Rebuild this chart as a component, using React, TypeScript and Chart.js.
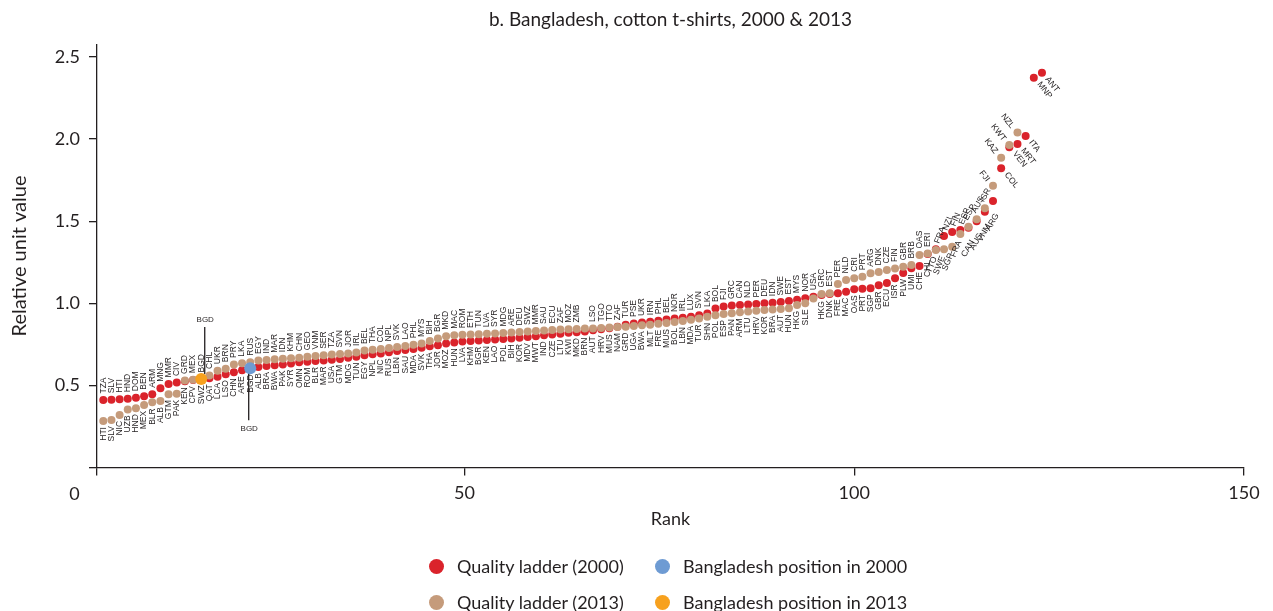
import React, { useEffect, useRef } from 'react';
import { Chart, registerables } from 'chart.js';

Chart.register(...registerables);

const TITLE = 'b. Bangladesh, cotton t-shirts, 2000 & 2013';
const X_TITLE = 'Rank';
const Y_TITLE = 'Relative unit value';
const X_TICKS = [50, 100, 150];
const Y_TICKS = [0, 0.5, 1, 1.5, 2, 2.5];
const X_MIN = 2.874;
const X_MAX = 150;
const Y_MAX = 2.577;
// rank position of the first dot and distance between dots
const RANK_START = 3.68;
const RANK_STEP = 1.047;

// Quality ladder (2000)
const RED_LABELS = [
  'TZA', 'SLV', 'HTI', 'HND', 'DOM', 'BEN', 'ARM', 'MNG', 'MMR', 'CIV',
  'KEN', 'CPV', 'SWZ', 'QAT', 'LCA', 'LSO', 'CHN', 'ARE', 'BGD', 'ALB',
  'BRA', 'BWA', 'PAK', 'SYR', 'OMN', 'ROM', 'BLR', 'MAR', 'USA', 'GTM',
  'MDG', 'TUN', 'EGY', 'NPL', 'NIC', 'RUS', 'LBN', 'SAU', 'MDA', 'SVK',
  'THA', 'JOR', 'MOZ', 'HUN', 'LVA', 'KHM', 'BGR', 'KEN', 'LAO', 'POL',
  'BIH', 'KOR', 'MDV', 'MWT', 'IND', 'CZE', 'LTU', 'KWI', 'MKD', 'BRN',
  'AUT', 'HRV', 'MUS', 'ZAF', 'TUR', 'PSE', 'UKR', 'IRN', 'PHL', 'BEL',
  'NOR', 'IRL', 'LUX', 'SVN', 'LKA', 'BOL', 'FJI', 'GRC', 'CAN', 'NLD',
  'PER', 'DEU', 'IDN', 'SWE', 'EST', 'MYS', 'NOR', 'USA', 'HKG', 'DNK',
  'FRE', 'MAC', 'OAS', 'PRT', 'SGP', 'GBR', 'ECU', 'ISR', 'PLW', 'UMI',
  'CHE', 'CHL', 'FRA', 'NZL', 'FIN', 'ESP', 'CAN', 'AUS', 'VNM', 'ARG',
  'COL', 'VEN', 'MRT', 'ITA', 'MNP', 'ANT',
];
const RED_VALUES = [
  0.411, 0.412, 0.415, 0.419, 0.425, 0.434, 0.446, 0.482, 0.509, 0.517,
  0.525, 0.533, 0.537, 0.543, 0.553, 0.568, 0.580, 0.592, 0.604, 0.612,
  0.618, 0.623, 0.628, 0.634, 0.641, 0.644, 0.649, 0.652, 0.656, 0.661,
  0.669, 0.675, 0.683, 0.690, 0.695, 0.702, 0.709, 0.716, 0.722, 0.730,
  0.738, 0.745, 0.755, 0.762, 0.768, 0.771, 0.773, 0.776, 0.779, 0.782,
  0.786, 0.790, 0.795, 0.800, 0.805, 0.810, 0.815, 0.820, 0.824, 0.828,
  0.836, 0.842, 0.848, 0.857, 0.870, 0.877, 0.883, 0.888, 0.894, 0.901,
  0.907, 0.912, 0.918, 0.928, 0.938, 0.968, 0.980, 0.986, 0.990, 0.993,
  0.996, 1.000, 1.004, 1.008, 1.014, 1.022, 1.031, 1.040, 1.050, 1.057,
  1.061, 1.071, 1.085, 1.089, 1.092, 1.110, 1.124, 1.152, 1.185, 1.213,
  1.227, 1.300, 1.330, 1.410, 1.435, 1.446, 1.460, 1.500, 1.558, 1.623,
  1.822, 1.950, 1.970, 2.019, 2.374, 2.404,
];

// Quality ladder (2013)
const TAN_LABELS = [
  'HTI', 'SLV', 'NIC', 'UZB', 'HND', 'MEX', 'BLR', 'ALB', 'GTM', 'PAK',
  'GRD', 'MEX', 'BGD', 'CHL', 'UKR', 'BRN', 'PRY', 'LKA', 'RUS', 'EGY',
  'IND', 'MAR', 'IDN', 'KHM', 'CHN', 'GEO', 'VNM', 'SER', 'TZA', 'SVN',
  'JOR', 'IRL', 'BEL', 'THA', 'COL', 'NPL', 'SVK', 'LAO', 'PHL', 'MYS',
  'BIH', 'BGR', 'MKD', 'MAC', 'ROM', 'ETH', 'TUN', 'LVA', 'SYR', 'MDG',
  'ARE', 'DEU', 'SWZ', 'MMR', 'SAU', 'ECU', 'ZAF', 'MOZ', 'ZMB', '',
  'LSO', 'TGO', 'TTO', 'NAM', 'GRD', 'UGA', 'BWA', 'MLT', 'FRE', 'MUS',
  'BOL', 'LBN', 'MDA', 'TUR', 'SHN', 'POL', 'ESP', 'PAN', 'ARM', 'LTU',
  'HRV', 'KOR', 'BRA', 'AUT', 'HUN', 'HKG', 'SLE', '', 'GRC', 'EST',
  'PER', 'NLD', 'CRI', 'PRT', 'ARG', 'DNK', 'CZE', 'FIN', 'GBR', 'BRB',
  'OAS', 'ERI', 'TTO', 'SWE', 'SGP', 'FRA', 'ESP', 'AUS', 'ISR', 'FJI',
  'KAZ', 'KWT', 'NZL',
];
const TAN_VALUES = [
  0.283, 0.289, 0.320, 0.354, 0.361, 0.381, 0.397, 0.405, 0.446, 0.449,
  0.530, 0.535, 0.539, 0.561, 0.590, 0.602, 0.628, 0.635, 0.641, 0.651,
  0.655, 0.659, 0.663, 0.665, 0.669, 0.675, 0.679, 0.683, 0.689, 0.691,
  0.695, 0.701, 0.712, 0.717, 0.722, 0.728, 0.734, 0.740, 0.747, 0.755,
  0.770, 0.785, 0.800, 0.805, 0.808, 0.810, 0.812, 0.814, 0.816, 0.819,
  0.822, 0.826, 0.829, 0.832, 0.835, 0.838, 0.840, 0.842, 0.844, 0.846,
  0.846, 0.849, 0.852, 0.855, 0.858, 0.862, 0.866, 0.870, 0.875, 0.880,
  0.886, 0.892, 0.900, 0.908, 0.918, 0.928, 0.935, 0.940, 0.945, 0.950,
  0.955, 0.959, 0.962, 0.966, 0.970, 0.990, 1.000, 1.030, 1.057, 1.062,
  1.118, 1.142, 1.152, 1.162, 1.183, 1.190, 1.203, 1.212, 1.222, 1.233,
  1.294, 1.304, 1.325, 1.329, 1.345, 1.422, 1.467, 1.512, 1.579, 1.716,
  1.887, 1.964, 2.041,
];

const LEGEND_ITEMS = [
  { text: 'Quality ladder (2000)', color: '#DA232B', row: 0, col: 0 },
  { text: 'Bangladesh position in 2000', color: '#6E9BD3', row: 0, col: 1 },
  { text: 'Quality ladder (2013)', color: '#C59B7B', row: 1, col: 0 },
  { text: 'Bangladesh position in 2013', color: '#F7A11E', row: 1, col: 1 },
];

const INK = '#231F20';
const RED = '#DA232B';
const TAN = '#C59B7B';
const BLUE = '#6E9BD3';
const ORANGE = '#F7A11E';
const FONT = 'Lato, "Noto Sans", sans-serif';
const LABEL_FONT = '8.5px "Liberation Sans", Arial, sans-serif';

const toPoints = (values: number[]) =>
  values.map((v, i) => ({ x: RANK_START + i * RANK_STEP, y: v }));

const labelPlugin = {
  id: 'pointLabels',
  afterDatasetsDraw(chart: any) {
    const ctx = chart.ctx;
    ctx.save();
    ctx.font = LABEL_FONT;
    ctx.fillStyle = INK;
    ctx.textBaseline = 'middle';
    const series = [
      { meta: chart.getDatasetMeta(0), labels: RED_LABELS, values: RED_VALUES, other: TAN_VALUES, kind: 'red' },
      { meta: chart.getDatasetMeta(1), labels: TAN_LABELS, values: TAN_VALUES, other: RED_VALUES, kind: 'tan' },
    ];
    for (const s of series) {
      s.meta.data.forEach((pt: any, i: number) => {
        const text = s.labels[i];
        if (!text) return;
        const rank = i + 1;
        const above = s.other[i] === undefined || s.values[i] >= s.other[i];
        let rot = -90;
        let align = above ? 'left' : 'right';
        let dx = 0;
        let dy = above ? -6.5 : 6;
        if (s.kind === 'red' && rank >= 111) {
          rot = 52; align = 'left'; dx = 5; dy = 5;
        } else if (s.kind === 'tan' && rank >= 110) {
          rot = 52; align = 'right'; dx = -5; dy = -5;
        } else if (s.kind === 'red' && rank >= 107) {
          rot = -60; align = 'right'; dx = 4; dy = 13;
        } else if (s.kind === 'tan' && rank >= 107) {
          rot = -60; align = 'left'; dx = -3; dy = -7;
        } else if (rank >= 103) {
          rot = -68;
          dx = above ? 1 : -1;
          dy = above ? -6 : 7;
        }
        ctx.save();
        ctx.translate(pt.x + dx, pt.y + dy);
        ctx.rotate((rot * Math.PI) / 180);
        ctx.textAlign = align;
        ctx.fillText(text, 0, 0);
        ctx.restore();
      });
    }
    ctx.restore();
  },
};

const calloutPlugin = {
  id: 'bgdCallouts',
  beforeDatasetsDraw(chart: any) {
    const ctx = chart.ctx;
    const blue = chart.getDatasetMeta(2).data[0];
    const orange = chart.getDatasetMeta(3).data[0];
    ctx.save();
    ctx.strokeStyle = INK;
    ctx.lineWidth = 1.3;
    ctx.beginPath();
    ctx.moveTo(orange.x + 3.5, orange.y - 52);
    ctx.lineTo(orange.x + 3.5, orange.y - 5);
    ctx.moveTo(blue.x - 1.5, blue.y + 4);
    ctx.lineTo(blue.x - 1.5, blue.y + 52);
    ctx.stroke();
    ctx.restore();
  },
  afterDraw(chart: any) {
    const ctx = chart.ctx;
    const blue = chart.getDatasetMeta(2).data[0];
    const orange = chart.getDatasetMeta(3).data[0];
    const xs = chart.scales.x;
    const area = chart.chartArea;
    ctx.save();
    ctx.fillStyle = INK;
    ctx.textAlign = 'center';
    ctx.textBaseline = 'middle';
    ctx.font = '8px "Liberation Sans", Arial, sans-serif';
    ctx.fillText('BGD', orange.x + 4, orange.y - 59);
    ctx.fillText('BGD', blue.x - 1, blue.y + 60);
    // origin label shared by both axes
    ctx.font = `18px ${FONT}`;
    ctx.fillText('0', xs.getPixelForValue(0), xs.top + 27);
    // chart title, centred over the plot area
    ctx.font = `19px ${FONT}`;
    ctx.textBaseline = 'alphabetic';
    ctx.fillText(TITLE, (area.left + area.right) / 2, 26);
    ctx.restore();
  },
};

export default function App() {
  const canvasRef = useRef<HTMLCanvasElement | null>(null);

  useEffect(() => {
    const canvas = canvasRef.current;
    if (!canvas) return;
    const redIdx = RED_LABELS.indexOf('BGD');
    const tanIdx = TAN_LABELS.indexOf('BGD');
    const redPts = toPoints(RED_VALUES);
    const tanPts = toPoints(TAN_VALUES);

    const chart = new Chart(canvas, {
      type: 'scatter',
      data: {
        datasets: [
          { label: 'Quality ladder (2000)', data: redPts, backgroundColor: RED, borderWidth: 0, pointRadius: 4, order: 3 },
          { label: 'Quality ladder (2013)', data: tanPts, backgroundColor: TAN, borderWidth: 0, pointRadius: 4, order: 2 },
          { label: 'Bangladesh position in 2000', data: [redPts[redIdx]], backgroundColor: BLUE, borderWidth: 0, pointRadius: 6, order: 1 },
          { label: 'Bangladesh position in 2013', data: [tanPts[tanIdx]], backgroundColor: ORANGE, borderWidth: 0, pointRadius: 6, order: 1 },
        ],
      },
      options: {
        animation: false,
        responsive: false,
        maintainAspectRatio: false,
        events: [],
        layout: { padding: { left: 0, right: 29, top: 44.4, bottom: 81.5 } },
        plugins: {
          legend: { display: false },
          tooltip: { enabled: false },
          title: { display: false },
        },
        scales: {
          x: {
            type: 'linear',
            min: X_MIN,
            max: X_MAX,
            afterBuildTicks: (s: any) => {
              s.ticks = [X_MIN, ...X_TICKS].map((v) => ({ value: v }));
            },
            afterFit: (s: any) => {
              s.height = 62;
            },
            ticks: {
              autoSkip: false,
              maxRotation: 0,
              padding: 7,
              color: INK,
              font: { family: FONT, size: 18 },
              callback: (v: any) => (X_TICKS.includes(v) ? String(v) : ''),
            },
            grid: { drawOnChartArea: false, drawTicks: true, tickLength: 8, color: INK, lineWidth: 1.3 },
            border: { display: true, color: INK, width: 1.3 },
            title: {
              display: true,
              text: X_TITLE,
              color: INK,
              font: { family: FONT, size: 18 },
              padding: { top: 0, bottom: 0 },
            },
          },
          y: {
            type: 'linear',
            min: 0,
            max: Y_MAX,
            afterBuildTicks: (s: any) => {
              s.ticks = Y_TICKS.map((v) => ({ value: v }));
            },
            afterFit: (s: any) => {
              s.width = 97;
            },
            ticks: {
              autoSkip: false,
              padding: 9,
              color: INK,
              font: { family: FONT, size: 18 },
              callback: (v: any) => (v === 0 ? '' : Number(v).toFixed(1)),
            },
            grid: { drawOnChartArea: false, drawTicks: true, tickLength: 8, color: INK, lineWidth: 1.3 },
            border: { display: true, color: INK, width: 1.3 },
            title: {
              display: true,
              text: Y_TITLE,
              color: INK,
              font: { family: FONT, size: 20 },
              padding: { top: 8, bottom: 0 },
            },
          },
        },
      } as any,
      plugins: [labelPlugin, calloutPlugin],
    });
    return () => chart.destroy();
  }, []);

  const rowY = [566, 602];
  const colX = [436, 662];

  return (
    <div style={{ position: 'absolute', left: 0, top: 0, width: 1273, height: 611, background: '#fff', overflow: 'hidden' }}>
      <canvas ref={canvasRef} width={1273} height={611} style={{ position: 'absolute', left: 0, top: 0, width: 1273, height: 611 }} />
      {LEGEND_ITEMS.map((it) => (
        <React.Fragment key={it.text}>
          <div
            style={{
              position: 'absolute',
              left: colX[it.col] - 7.5,
              top: rowY[it.row] - 7.5,
              width: 15,
              height: 15,
              borderRadius: '50%',
              background: it.color,
            }}
          />
          <div
            style={{
              position: 'absolute',
              left: colX[it.col] + 21,
              top: rowY[it.row] - 12,
              height: 24,
              lineHeight: '24px',
              fontFamily: FONT,
              fontSize: 18,
              color: INK,
              whiteSpace: 'nowrap',
            }}
          >
            {it.text}
          </div>
        </React.Fragment>
      ))}
    </div>
  );
}
